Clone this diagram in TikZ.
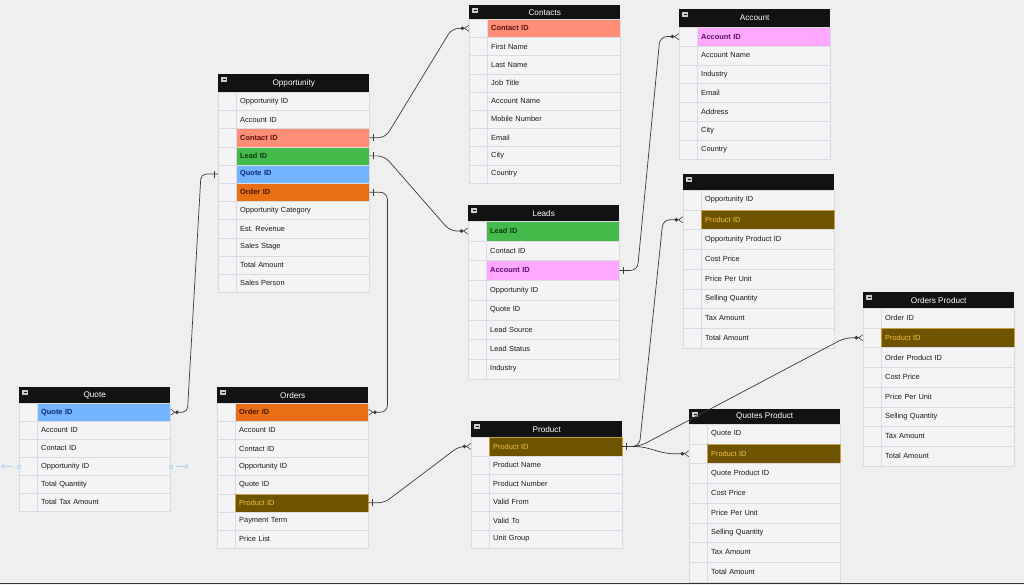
\documentclass[tikz,border=0pt]{standalone}
\usepackage{fontspec}
\setmainfont{Liberation Sans}
\usetikzlibrary{arrows.meta, decorations.markings, calc}
\frenchspacing

\definecolor{bggray}{HTML}{EFEFEF}
\definecolor{headblack}{HTML}{121212}
\definecolor{rowfill}{HTML}{F4F4F6}
\definecolor{rowline}{HTML}{DADAE0}
\definecolor{linkgray}{HTML}{3A3A3A}
\definecolor{handleblue}{HTML}{B4D4F2}
\definecolor{contactfill}{HTML}{FF8E79}
\definecolor{contacttext}{HTML}{5A1008}
\definecolor{leadfill}{HTML}{43BA4A}
\definecolor{leadtext}{HTML}{0E3A10}
\definecolor{quotefill}{HTML}{72B4FF}
\definecolor{quotetext}{HTML}{0B2A6E}
\definecolor{orderfill}{HTML}{EA6F14}
\definecolor{ordertext}{HTML}{4A1400}
\definecolor{accountfill}{HTML}{FFA8FF}
\definecolor{accounttext}{HTML}{5A0A6A}
\definecolor{productfill}{HTML}{6E5400}
\definecolor{productline}{HTML}{C8A040}
\definecolor{producttext}{HTML}{F5C34A}

\tikzset{
    tabhead/.style={fill=headblack, text=white, minimum width=151pt, inner sep=0pt,
        font=\fontsize{8.2}{9}\selectfont},
    keycell/.style={draw=rowline, fill=rowfill, minimum width=18pt, inner sep=0pt},
    rowcell/.style={draw=rowline, fill=rowfill, text=black!90, minimum width=133pt,
        text width=125pt, align=left, inner xsep=4pt, inner ysep=0pt,
        font=\fontsize{7.4}{8}\selectfont},
    fld/.style={},
    pkcontact/.style={fill=contactfill, text=contacttext, font=\fontsize{7.4}{8}\selectfont\bfseries},
    pklead/.style={fill=leadfill, text=leadtext, font=\fontsize{7.4}{8}\selectfont\bfseries},
    pkquote/.style={fill=quotefill, text=quotetext, font=\fontsize{7.4}{8}\selectfont\bfseries},
    pkorder/.style={fill=orderfill, text=ordertext, font=\fontsize{7.4}{8}\selectfont\bfseries},
    pkaccount/.style={fill=accountfill, text=accounttext, font=\fontsize{7.4}{8}\selectfont\bfseries},
    pkproduct/.style={fill=productfill, draw=productline, text=producttext},
    link/.style={draw=linkgray, line width=0.7pt, rounded corners=7pt},
    many/.style={-{Circle[length=3.6pt] Straight Barb[reversed, length=4pt, width=6pt, line width=0.6pt]}},
    one/.style={postaction={decorate}, decoration={markings,
        mark=at position 4pt with {\draw[-, line width=0.6pt] (0,-3.5pt) -- (0,3.5pt);}}},
    handlebox/.style={draw=handleblue, fill=handleblue!40, minimum size=3pt, inner sep=0pt},
    handle/.style={draw=handleblue, line width=1.2pt}
}

% #1 name, #2 x, #3 y, #4 header height, #5 row height, #6 title, #7 rows
\newcommand{\erbox}[7]{%
    \node[tabhead, minimum height=#4pt, anchor=north west] (#1) at (#2,#3) {#6};
    \fill[white!80!black] (#2+3,#3+3) rectangle ++(6,5);
    \draw[headblack, line width=0.6pt] (#2+4.5,#3+5.5) -- ++(3,0);
    \foreach \txt/\sty [count=\i] in {#7} {
        \node[keycell, minimum height=#5pt, anchor=north west] (#1-k\i) at (#2,{#3+#4+(\i-1)*#5}) {};
        \node[rowcell, minimum height=#5pt, anchor=north west, \sty] (#1-\i) at (#2+18,{#3+#4+(\i-1)*#5}) {\txt};
    }
}

\begin{document}
\begin{tikzpicture}[x=1pt, y=-1pt]
    \fill[bggray] (0,0) rectangle (1024,585);
    \useasboundingbox (0,0) rectangle (1024,585);

    \erbox{opport}{218}{74}{18}{18.2}{Opportunity}{Opportunity ID/fld, Account ID/fld,
        Contact ID/pkcontact, Lead ID/pklead, Quote ID/pkquote, Order ID/pkorder,
        Opportunity Category/fld, Est. Revenue/fld, Sales Stage/fld, Total Amount/fld,
        Sales Person/fld}
    \erbox{contacts}{469}{5}{14}{18.2}{Contacts}{Contact ID/pkcontact, First Name/fld,
        Last Name/fld, Job Title/fld, Account Name/fld, Mobile Number/fld, Email/fld,
        City/fld, Country/fld}
    \erbox{account}{679}{9}{18}{18.8}{Account}{Account ID/pkaccount, Account Name/fld,
        Industry/fld, Email/fld, Address/fld, City/fld, Country/fld}
    \erbox{leads}{468}{205}{16}{19.7}{Leads}{Lead ID/pklead, Contact ID/fld,
        Account ID/pkaccount, Opportunity ID/fld, Quote ID/fld, Lead Source/fld,
        Lead Status/fld, Industry/fld}
    \erbox{oppprod}{683}{174}{16}{19.7}{}{Opportunity ID/fld, Product ID/pkproduct,
        Opportunity Product ID/fld, Cost Price/fld, Price Per Unit/fld,
        Selling Quantity/fld, Tax Amount/fld, Total Amount/fld}
    \erbox{quote}{19}{387}{16}{18}{Quote}{Quote ID/pkquote, Account ID/fld,
        Contact ID/fld, Opportunity ID/fld, Total Quantity/fld, Total Tax Amount/fld}
    \erbox{orders}{217}{387}{16}{18.1}{Orders}{Order ID/pkorder, Account ID/fld,
        Contact ID/fld, Opportunity ID/fld, Quote ID/fld, Product ID/pkproduct,
        Payment Term/fld, Price List/fld}
    \erbox{product}{471}{421}{16}{18.5}{Product}{Product ID/pkproduct, Product Name/fld,
        Product Number/fld, Valid From/fld, Valid To/fld, Unit Group/fld}
    \erbox{quoteprod}{689}{409}{15}{19.7}{Quotes Product}{Quote ID/fld,
        Product ID/pkproduct, Quote Product ID/fld, Cost Price/fld, Price Per Unit/fld,
        Selling Quantity/fld, Tax Amount/fld, Total Amount/fld}
    \erbox{orderprod}{863}{292}{16}{19.7}{Orders Product}{Order ID/fld,
        Product ID/pkproduct, Order Product ID/fld, Cost Price/fld, Price Per Unit/fld,
        Selling Quantity/fld, Tax Amount/fld, Total Amount/fld}

    \draw[link, one, many] (opport-3.east) -- ++(16,0) -- ($(contacts-k1.west)+(-17,0)$) -- (contacts-k1.west);
    \draw[link, one, many] (opport-4.east) -- ++(15,0) -- ($(leads-k1.west)+(-18,0)$) -- (leads-k1.west);
    \draw[link, one, many] (opport-6.east) -- ++(18,0) |- (orders-1.east);
    \draw[link, one, many, rounded corners=5pt] (opport-k5.west) -- ++(-17,0) -- ($(quote-1.east)+(17,0)$) -- (quote-1.east);
    \draw[link, one, many] (leads-3.east) -- ++(18,0) -- ($(account-k1.west)+(-19,0)$) -- (account-k1.west);
    \draw[link, one, many, rounded corners=6pt] (orders-6.east) -- ++(16,0) -- ($(product-k1.west)+(-12,0)$) -- (product-k1.west);
    \draw[link, one, many] (product-1.east) -- ++(17,0) -- ($(oppprod-k2.west)+(-20,0)$) -- (oppprod-k2.west);
    \draw[link, one, many] (product-1.east) -- ++(19,0) -- ($(quoteprod-k2.west)+(-22,0)$) -- (quoteprod-k2.west);
    \draw[link, one, many] (product-1.east) -- ++(17,0) -- ($(orderprod-k2.west)+(-18,0)$) -- (orderprod-k2.west);

    \draw[handle, -{Straight Barb[length=2pt]}] ($(quote-k4.west)+(-6,0)$) -- ++(-12,0);
    \draw[handle, -{Straight Barb[length=2pt]}] ($(quote-4.east)+(6,0)$) -- ++(12,0);
    \node[handlebox] at (quote-k4.west) {};
    \node[handlebox] at (quote-4.east) {};

    \draw[line width=1.5pt, black!80] (0,583.5) -- (1024,583.5);
\end{tikzpicture}
\end{document}
